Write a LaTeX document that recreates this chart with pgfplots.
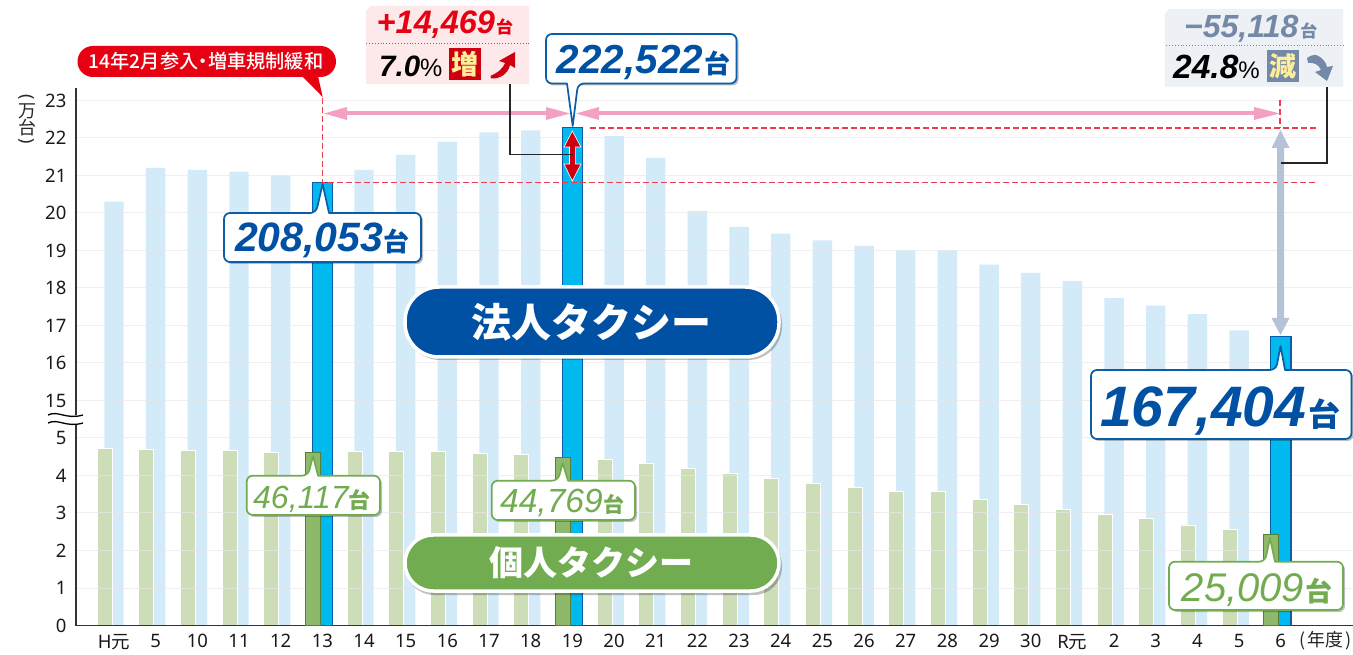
\documentclass[border=0pt]{standalone}
\usepackage{pgfplots}
\pgfplotsset{compat=1.18}
\usepackage{fontspec}
\setmainfont{Noto Sans}
\newfontfamily\cjk{Noto Sans CJK JP}
\newfontfamily\cjkm{Noto Sans CJK JP Medium}
\newfontfamily\lib{Liberation Sans}
\definecolor{paleblue}{HTML}{D3EBF9}
\definecolor{palegreen}{HTML}{CDDDB8}
\definecolor{hiblue}{HTML}{00B9EF}
\definecolor{hibluedark}{HTML}{0B5DA8}
\definecolor{higreen}{HTML}{8FB96A}
\definecolor{higreendark}{HTML}{55803A}
\definecolor{navy}{HTML}{0050A4}
\definecolor{lgreen}{HTML}{72AC50}
\definecolor{brandred}{HTML}{E60012}
\definecolor{darkred}{HTML}{CE0010}
\definecolor{pinkline}{HTML}{F4A0C4}
\definecolor{dashred}{HTML}{EE3B4E}
\definecolor{greyblue}{HTML}{B6C3D6}
\definecolor{slate}{HTML}{7489A8}
\definecolor{yel}{HTML}{FFEE99}
\pgfplotsset{common/.style={
  scale only axis, width=1277pt, height=537pt,
  at={(76pt,28.5pt)}, anchor=south west,
  xmin=-0.912, xmax=29.733, ymin=0, ymax=23.32,
  y coord trafo/.code={\pgfmathparse{ifthenelse(##1>10,##1-9,##1)}},
}}
\newcommand{\fs}[1]{\fontsize{#1}{#1}\selectfont}
% callout: xl yt xr yb  tailL tailR tipx tipy colour ; tail on the top or the bottom edge
\newcommand{\calloutup}[9]{%
  \fill[black,opacity=.25,shift={(2,2)},rounded corners=6] (#1,#2) -- (#3,#2) -- (#3,#4) -- (#1,#4) -- cycle;
  \filldraw[white,draw=#9,line width=1.7pt,line join=round,rounded corners=6] (#1,#2) -- (#5,#2) {[sharp corners] -- (#7,#8) -- (#6,#2)} -- (#3,#2) -- (#3,#4) -- (#1,#4) -- cycle;}
\newcommand{\calloutdown}[9]{%
  \fill[black,opacity=.25,shift={(2,2)},rounded corners=6] (#1,#2) -- (#3,#2) -- (#3,#4) -- (#1,#4) -- cycle;
  \filldraw[white,draw=#9,line width=1.7pt,line join=round,rounded corners=6] (#1,#2) -- (#3,#2) -- (#3,#4) -- (#6,#4) {[sharp corners] -- (#7,#8) -- (#5,#4)} -- (#1,#4) -- cycle;}
\begin{document}
\begin{tikzpicture}[x=1pt,y=1pt]
\path[use as bounding box] (0,0) rectangle (1353,654);
\begin{axis}[common,
  axis on top,
  axis lines=left, axis line style={-, line width=1.3pt, black!80},
  tick style={draw=none},
  ymajorgrids, grid style={black!9, line width=1pt, opacity=.7},
  xtick={0,...,28},
  xticklabels={H{\cjk 元},5,10,11,12,13,14,15,16,17,18,19,20,21,22,23,24,25,26,27,28,29,30,R{\cjk 元},2,3,4,5,6},
  ytick={0,1,2,3,4,5,15,16,17,18,19,20,21,22,23},
  yticklabels={0,1,2,3,4,5,15,16,17,18,19,20,21,22,23},
  tick label style={font=\fs{18.5}, text=black!90},
  xticklabel style={yshift=-3pt},
  yticklabel style={xshift=-4pt},
]
\addplot[ybar, bar width=19.4pt, bar shift=0pt, fill=paleblue, draw=none] coordinates {
(0,20.3)(1,21.2)(2,21.15)(3,21.1)(4,21.0)(6,21.15)(7,21.55)(8,21.9)(9,22.15)(10,22.2)
(12,22.05)(13,21.47)(14,20.05)(15,19.63)(16,19.45)(17,19.27)(18,19.12)(19,19.0)(20,19.0)
(21,18.62)(22,18.4)(23,18.18)(24,17.73)(25,17.53)(26,17.3)(27,16.87)};
\addplot[ybar, bar width=15pt, bar shift=-9.5pt, fill=palegreen, draw=white, line width=.8pt] coordinates {
(0,4.72)(1,4.7)(2,4.67)(3,4.66)(4,4.62)(6,4.63)(7,4.65)(8,4.63)(9,4.58)(10,4.55)
(12,4.43)(13,4.33)(14,4.18)(15,4.05)(16,3.93)(17,3.8)(18,3.68)(19,3.58)(20,3.58)
(21,3.36)(22,3.22)(23,3.1)(24,2.95)(25,2.85)(26,2.68)(27,2.56)};
\end{axis}
\begin{axis}[common, hide axis]
\addplot[ybar, bar width=20.5pt, bar shift=0pt, fill=hiblue, draw=hibluedark, line width=1.2pt] coordinates {(5,20.81)(11,22.27)(28,16.7)};
\addplot[ybar, bar width=15pt, bar shift=-9.5pt, fill=higreen, draw=higreendark, line width=1.2pt] coordinates {(5,4.62)(11,4.485)(28,2.43)};
\end{axis}
\begin{scope}[x=1pt,y=-1pt,yshift=654pt]
% axis break
\fill[white] (46,414) .. controls (56,409) and (64,419) .. (84,414) -- (84,423) .. controls (64,428) and (56,418) .. (46,423) -- cycle;
\draw[black,line width=1.3pt] (48,415) .. controls (58,410) and (66,420) .. (83,415);
\draw[black,line width=1.3pt] (48,423) .. controls (58,418) and (66,428) .. (83,423);
% y unit
\node[rotate=-90,inner sep=0,font=\fs{18},text=black!85] at (27,97) {(};
\node[inner sep=0,font=\cjk\fs{18},text=black!85] at (27,111.5) {万};
\node[inner sep=0,font=\cjk\fs{18},text=black!85] at (27,128) {台};
\node[rotate=-90,inner sep=0,font=\fs{18},text=black!85] at (27,141) {)};
\node[anchor=base east,inner sep=0,font=\cjk\fs{18},text=black!85] at (1352,646) {(\kern2pt 年度\kern2pt)};
% dashed guides
\draw[dashred,line width=1.4pt,dash pattern=on 6pt off 3pt] (322.5,98) -- (322.5,182.5) -- (1316,182.5);
\draw[dashred,line width=1.4pt,dash pattern=on 6pt off 3pt] (590,128) -- (1316,128);
\draw[dashred,line width=1.4pt,dash pattern=on 6pt off 3pt] (1280,100) -- (1280,128);
% pink arrows
\draw[pinkline,line width=4pt] (345,113.5) -- (548,113.5);
\draw[pinkline,line width=4pt] (597,113.5) -- (1256,113.5);
\fill[pinkline] (324,113.5) -- (347,107) -- (347,120) -- cycle;
\fill[pinkline] (570,113.5) -- (546,107) -- (546,120) -- cycle;
\fill[pinkline] (576,113.5) -- (599,107) -- (599,120) -- cycle;
\fill[pinkline] (1280,113.5) -- (1254,107) -- (1254,120) -- cycle;
% grey arrow
\fill[greyblue] (1280.5,130) -- (1289.5,148) -- (1284,148) -- (1284,318) -- (1289.5,318) -- (1280.5,335) -- (1271.5,318) -- (1277,318) -- (1277,148) -- (1271.5,148) -- cycle;
% red arrow
\filldraw[fill=darkred,draw=white,line width=.6pt] (572.3,131) -- (581,147) -- (575.3,147) -- (575.3,164) -- (581,164) -- (572.3,181) -- (564,164) -- (569.5,164) -- (569.5,147) -- (564,147) -- cycle;
% connectors
\draw[black!85,line width=1.2pt] (510,84) -- (510,154.5) -- (573,154.5);
\draw[black!85,line width=1.2pt] (1327,87) -- (1327,163) -- (1281,163);
% left info box
\fill[brandred!9] (371,6) -- (529,6) -- (529,84) -- (366,84) -- (366,11) -- cycle;
\draw[brandred!80,line width=.9pt,dotted] (366,43) -- (529,43);
\node[anchor=base west,inner sep=0,text=brandred] at (376.5,34) {\lib\bfseries\itshape\fs{32.5}+14,469\kern1pt\cjk\bfseries\upshape\fs{17}台};
\node[anchor=base west,inner sep=0,text=black] at (379,76.5) {\lib\bfseries\itshape\fs{29.5}7.0\upshape\mdseries\fs{25}\%};
\fill[darkred] (449,48) rectangle (481,80);
\node[inner sep=0,text=yel,font=\cjk\bfseries\fs{27}] at (465,64) {増};
\fill[darkred] (490.5,76) .. controls (497,73) and (502,70) .. (505,63) -- (499,61) -- (515,52) -- (515,68) -- (510,65) .. controls (508,74) and (500,79) .. (491,78.5) -- cycle;
% right info box
\fill[slate!13] (1169,9) -- (1343,9) -- (1343,86.7) -- (1164.5,86.7) -- (1164.5,14) -- cycle;
\draw[slate,line width=.9pt,dotted] (1166,45) -- (1343,45);
\node[anchor=base west,inner sep=0,text=slate] at (1184,38) {\lib\bfseries\itshape\fs{32}\char"2212 55,118\kern2pt\cjk\bfseries\upshape\fs{17}台};
\node[anchor=base west,inner sep=0,text=black] at (1173,79) {\lib\bfseries\itshape\fs{33.5}24.8\upshape\mdseries\fs{24}\%};
\fill[slate] (1267,50) rectangle (1299,81.7);
\node[inner sep=0,text=yel,font=\cjk\bfseries\fs{27}] at (1283,66) {減};
\fill[slate] (1307,58) .. controls (1312,55) .. (1316,55) .. controls (1322,57) and (1326,62) .. (1327,67) -- (1333,66) -- (1327,81) -- (1315,72) -- (1321,70) .. controls (1319,65) and (1314,62) .. (1308,63) -- cycle;
% red pill
\fill[brandred,rounded corners=15.4] (77.5,46) rectangle (336,77);
\fill[brandred] (302,76) -- (318,76) -- (322.7,97) -- cycle;
\node[inner sep=0,text=white,font=\cjkm\fs{19.2}] at (206,61) {14年2月参入\kern-.25em ・\kern-.25em 増車規制緩和};
% callouts blue
\calloutup{224}{213}{421}{262}{316}{329}{322.6}{184}{hibluedark}
\node[anchor=base west,inner sep=0,text=navy] at (235,252) {\lib\bfseries\itshape\fs{41}208,053\cjk\bfseries\upshape\fs{26}台};
\calloutdown{546}{34}{736.5}{83.5}{567}{578}{572.7}{126}{hibluedark}
\node[anchor=base west,inner sep=0,text=navy] at (556.5,74) {\lib\bfseries\itshape\fs{40.5}222,522\kern1pt\cjk\bfseries\upshape\fs{26}台};
\calloutup{1091}{370}{1351.5}{439}{1276}{1285}{1280.5}{346}{hibluedark}
\node[anchor=base west,inner sep=0,text=navy] at (1100,426.7) {\lib\bfseries\itshape\fs{57}167,404\kern2pt\cjk\bfseries\upshape\fs{32}台};
% callouts green
\calloutup{246.7}{475.7}{380}{515}{308}{318}{313}{456}{lgreen}
\node[anchor=base west,inner sep=0,text=lgreen] at (253,508) {\lib\itshape\fs{32}46,117\cjk\bfseries\upshape\fs{22}台};
\calloutup{491.7}{480.7}{635}{520}{558}{568}{562.7}{463}{lgreen}
\node[anchor=base west,inner sep=0,text=lgreen] at (500,513) {\lib\itshape\fs{33.5}44,769\kern1pt\cjk\bfseries\upshape\fs{21}台};
\calloutup{1169}{561.7}{1343}{610}{1265}{1275}{1270}{538}{lgreen}
\node[anchor=base west,inner sep=0,text=lgreen] at (1181.7,601.7) {\lib\itshape\fs{40}25,009\kern1pt\cjk\bfseries\upshape\fs{27}台};
% pills
\filldraw[fill=black,opacity=.25,draw=none,rounded corners=34] (406,290) rectangle (782,360);
\filldraw[fill=navy,draw=white,line width=3.5pt,rounded corners=34] (405,287) rectangle (779,357);
\node[inner sep=0,text=white,font=\cjk\bfseries\fs{40}] at (591,322) {法人タクシー};
\filldraw[fill=black,opacity=.25,draw=none,rounded corners=28] (406,538) rectangle (782,595);
\filldraw[fill=lgreen,draw=white,line width=3.5pt,rounded corners=28] (405,535) rectangle (779,591);
\node[inner sep=0,text=white,font=\cjk\bfseries\fs{34}] at (591,563) {個人タクシー};
\end{scope}
\end{tikzpicture}
\end{document}
